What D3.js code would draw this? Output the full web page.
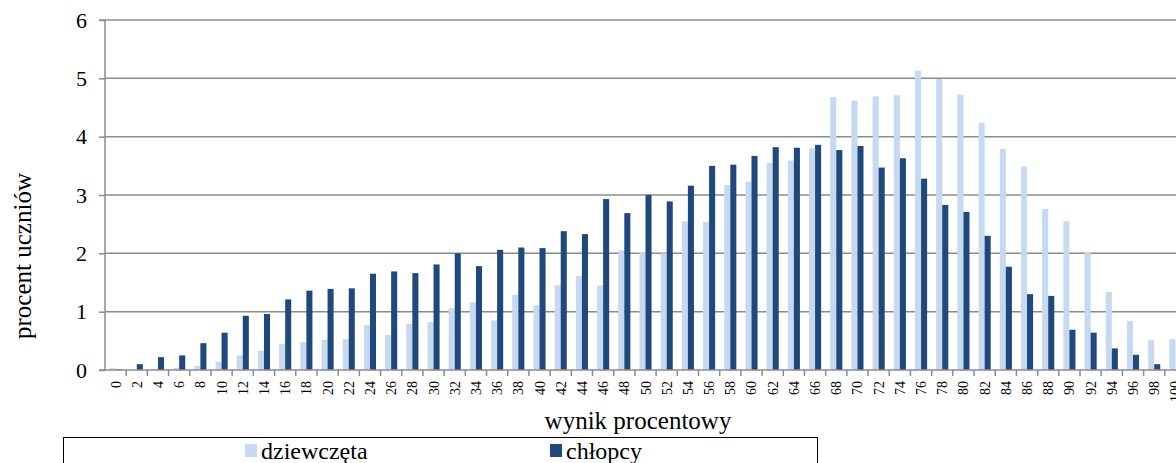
<!DOCTYPE html>
<html>
<head>
<meta charset="utf-8">
<script src="https://cdn.jsdelivr.net/npm/d3@7"></script>
<style>
    body { margin: 0; background: #fff; }
    svg { display: block; }
    text { font-family: "Times New Roman", "Liberation Serif", serif; fill: #000; }
</style>
</head>
<body>
<svg></svg>
<script>
const categories = d3.range(0, 101, 2).map(String);

const dziewczeta = [0.03, 0.01, 0.02, 0.04, 0.07, 0.14, 0.25, 0.33, 0.45, 0.48,
    0.52, 0.53, 0.77, 0.60, 0.79, 0.82, 1.06, 1.16, 0.85, 1.29,
    1.11, 1.45, 1.61, 1.45, 2.05, 2.02, 2.00, 2.55, 2.54, 3.17,
    3.23, 3.55, 3.59, 3.80, 4.68, 4.62, 4.69, 4.71, 5.13, 4.99,
    4.72, 4.24, 3.79, 3.49, 2.76, 2.55, 2.02, 1.34, 0.84, 0.51, 0.53];

const chlopcy = [0.01, 0.10, 0.22, 0.25, 0.46, 0.64, 0.93, 0.96, 1.21, 1.36,
    1.39, 1.40, 1.65, 1.69, 1.66, 1.81, 2.00, 1.78, 2.06, 2.10,
    2.09, 2.38, 2.33, 2.93, 2.69, 3.00, 2.89, 3.16, 3.50, 3.52,
    3.67, 3.82, 3.81, 3.86, 3.77, 3.84, 3.47, 3.63, 3.28, 2.83,
    2.71, 2.30, 1.77, 1.30, 1.27, 0.69, 0.64, 0.37, 0.26, 0.10, 0];

const yTicks = [0, 1, 2, 3, 4, 5, 6];

const seriesNames = ["dziewczęta", "chłopcy"];
const COLORS = ["#c6d9f1", "#1f497d"];
const FONT = "'Times New Roman', 'Liberation Serif', serif";

function drawGraph() {
    let svg = d3.select("svg")
        .attr("width", 1176)
        .attr("height", 463)
        .attr("font-family", FONT);

    let area = {
        left: 105,
        right: 1186,
        top: 20,
        bottom: 370
    }

    let scX = d3.scaleBand()
        .domain(categories)
        .range([area.left, area.right]);

    let inner = d3.scaleBand()
        .domain([0, 1])
        .range([0, scX.bandwidth()])
        .paddingOuter(0.75)
        .paddingInner(0);

    let scY = d3.scaleLinear()
        .domain([0, 6])
        .range([area.bottom, area.top]);

    // gridlines
    svg.append("g")
        .selectAll("line")
        .data(yTicks.filter(d => d > 0))
        .enter()
        .append("line")
        .attr("x1", area.left)
        .attr("x2", area.right)
        .attr("y1", d => scY(d))
        .attr("y2", d => scY(d))
        .style("stroke", "#8c8c8c")
        .style("stroke-width", 1.5);

    // bars
    let series = [dziewczeta, chlopcy];
    series.forEach((vals, i) => {
        svg.append("g")
            .selectAll("rect")
            .data(categories)
            .enter()
            .append("rect")
            .attr("x", (d, k) => scX(d) + inner(i))
            .attr("width", inner.bandwidth())
            .attr("y", (d, k) => scY(vals[k]))
            .attr("height", (d, k) => area.bottom - scY(vals[k]))
            .style("fill", COLORS[i]);
    });

    // y axis
    let axisY = d3.axisLeft(scY)
        .tickValues(yTicks)
        .tickSize(6)
        .tickPadding(12)
        .tickFormat(d3.format("d"));

    let gy = svg.append("g")
        .attr("transform", `translate(${area.left}, 0)`)
        .call(axisY)
        .attr("font-family", FONT);
    gy.select(".domain").style("stroke", "#8c8c8c").style("stroke-width", 1.5)
        .attr("d", `M-6,${area.top}H0V${area.bottom}`);
    gy.selectAll(".tick line").style("stroke", "#8c8c8c").style("stroke-width", 1.5);
    gy.selectAll("text")
        .style("font-size", "22px")
        .style("fill", "#000");

    // x axis
    let gx = svg.append("g")
        .attr("transform", `translate(0, ${area.bottom})`);
    gx.append("line")
        .attr("x1", area.left - 6)
        .attr("x2", area.right)
        .style("stroke", "#8c8c8c")
        .style("stroke-width", 1.5);
    gx.selectAll(".sep")
        .data(categories)
        .enter()
        .append("line")
        .attr("x1", d => scX(d) + scX.bandwidth())
        .attr("x2", d => scX(d) + scX.bandwidth())
        .attr("y1", 0)
        .attr("y2", 6)
        .style("stroke", "#8c8c8c")
        .style("stroke-width", 1.5);
    gx.selectAll("text")
        .data(categories)
        .enter()
        .append("text")
        .attr("transform", d => `translate(${scX(d) + scX.bandwidth() / 2 + 5}, 11) rotate(-90)`)
        .attr("text-anchor", "end")
        .style("font-size", "14px")
        .text(d => d);

    // axis titles
    svg.append("text")
        .attr("transform", "translate(31, 256) rotate(-90)")
        .attr("text-anchor", "middle")
        .style("font-size", "25px")
        .text("procent uczniów");

    svg.append("text")
        .attr("x", 638)
        .attr("y", 429)
        .attr("text-anchor", "middle")
        .style("font-size", "25px")
        .text("wynik procentowy");

    // legend
    svg.append("rect")
        .attr("x", 63.5)
        .attr("y", 437.5)
        .attr("width", 754)
        .attr("height", 40)
        .style("fill", "none")
        .style("stroke", "#000")
        .style("stroke-width", 1);

    let legX = [245, 550];
    seriesNames.forEach((name, i) => {
        svg.append("rect")
            .attr("x", legX[i])
            .attr("y", 444)
            .attr("width", 12)
            .attr("height", 13)
            .style("fill", COLORS[i]);
        svg.append("text")
            .attr("x", legX[i] + 16)
            .attr("y", 459)
            .style("font-size", "24px")
            .text(name);
    });
}

drawGraph();
</script>
</body>
</html>
